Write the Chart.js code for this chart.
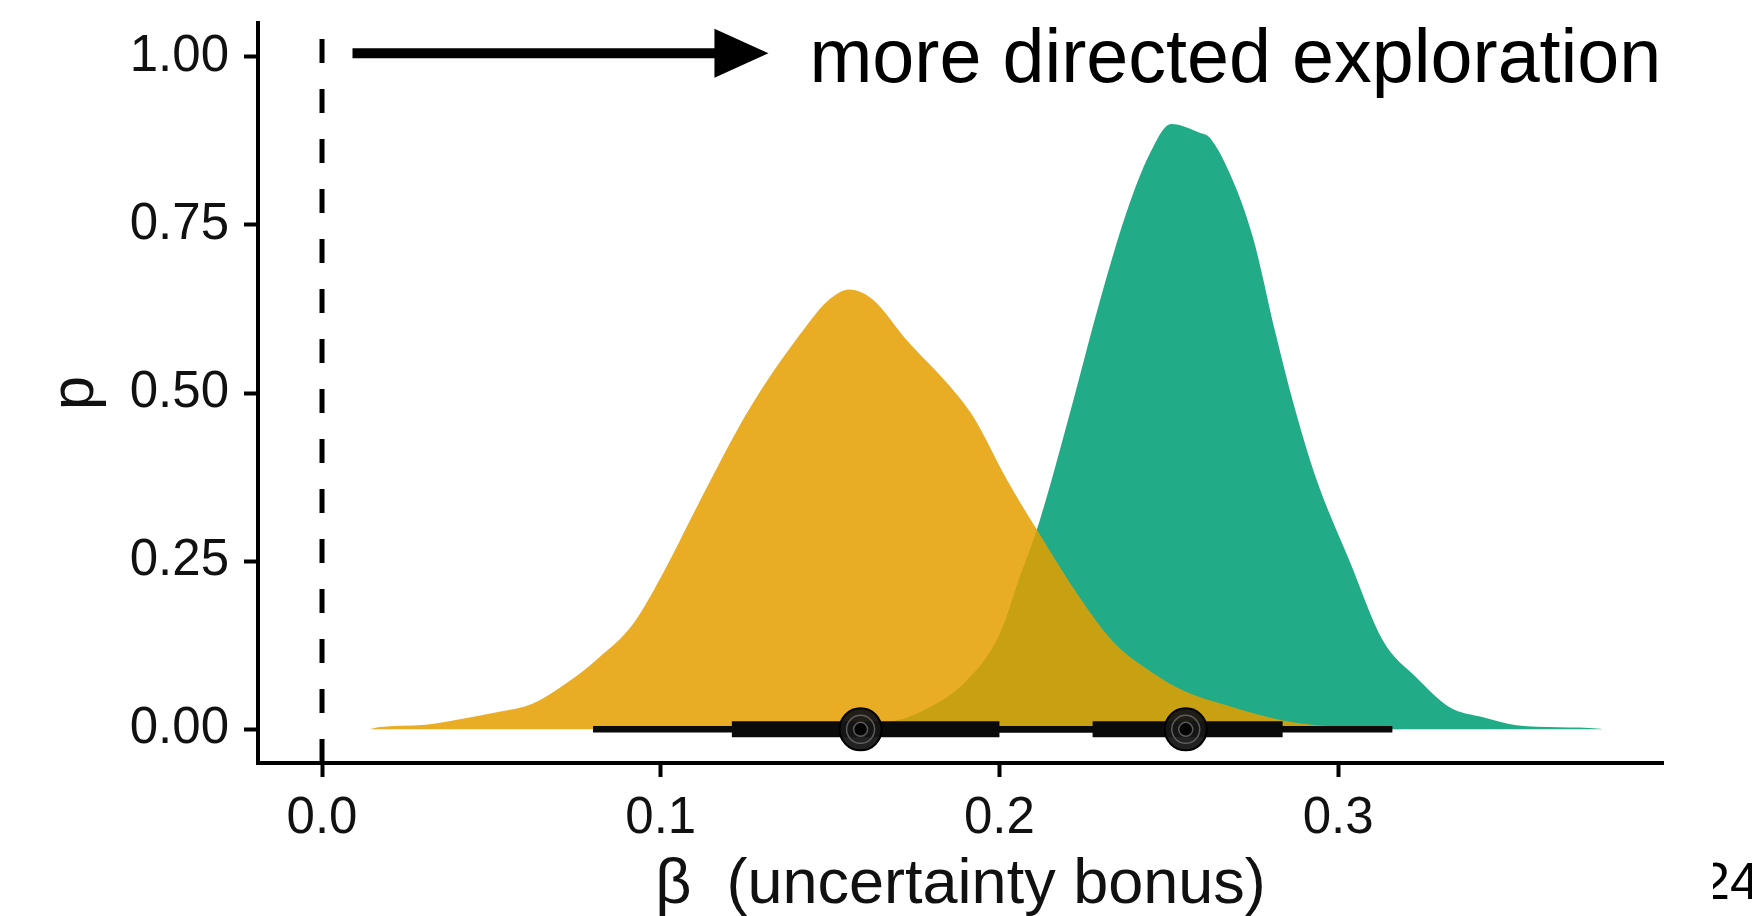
<!DOCTYPE html>
<html>
<head>
<meta charset="utf-8">
<script src="https://cdn.jsdelivr.net/npm/chart.js@4.4.1/dist/chart.umd.min.js"></script>
<style>
  html, body { margin: 0; padding: 0; background: #ffffff; }
  #wrap { width: 1752px; height: 916px; position: relative; }
</style>
</head>
<body>
<div id="wrap"><canvas id="c" width="1752" height="916"></canvas></div>
<script>
// ---------- data ----------
const xTicks = [0.0, 0.1, 0.2, 0.3];
const yTicks = [0.00, 0.25, 0.50, 0.75, 1.00];

// posterior density, yellow group
const yellowBeta = [0.014, 0.0165, 0.0306, 0.0419, 0.0523, 0.0621, 0.072, 0.0818, 0.0917, 0.1015, 0.1114, 0.1261, 0.1429, 0.150, 0.1557, 0.1626, 0.1724, 0.1852, 0.1921, 0.202, 0.2108, 0.2245, 0.234, 0.2443, 0.2541, 0.2689, 0.2837, 0.2935, 0.310, 0.320];
const yellowDens = [0.000, 0.003, 0.007, 0.016, 0.026, 0.038, 0.068, 0.107, 0.156, 0.240, 0.338, 0.476, 0.599, 0.640, 0.654, 0.639, 0.580, 0.511, 0.466, 0.373, 0.299, 0.190, 0.128, 0.087, 0.058, 0.033, 0.013, 0.006, 0.002, 0.000];

// posterior density, green group
const greenBeta = [0.160, 0.1655, 0.1754, 0.1902, 0.200, 0.2059, 0.2118, 0.2217, 0.2295, 0.2374, 0.2443, 0.2507, 0.2591, 0.262, 0.2689, 0.2748, 0.2817, 0.2866, 0.2935, 0.3034, 0.3132, 0.3231, 0.3329, 0.3428, 0.3526, 0.365, 0.3773, 0.378];
const greenDens = [0.000, 0.008, 0.023, 0.072, 0.141, 0.225, 0.309, 0.487, 0.634, 0.767, 0.855, 0.900, 0.887, 0.880, 0.816, 0.732, 0.585, 0.488, 0.373, 0.250, 0.132, 0.077, 0.033, 0.018, 0.006, 0.003, 0.001, 0.000];

// point intervals: [yellow, green]
const medians  = [0.159, 0.255];
const ci66Low  = [0.121, 0.2275];
const ci66High = [0.200, 0.2836];
const ci95Low  = [0.080, 0.190];
const ci95High = [0.235, 0.316];

// reference line and annotation
const refLineX = [0];
const arrowFromX = 0.009;
const arrowToX = 0.1318;
const arrowY = 1.005;
const annotationText = 'more directed exploration';
const annotationX = 0.1439;

const xTitle = 'β  (uncertainty bonus)';
const yTitle = 'p';
const pageNumber = '24';

// ---------- styling ----------
const FONT = "'Liberation Sans', Arial, Helvetica, sans-serif";
const YELLOW = 'rgba(228,159,0,0.86)';
const GREEN = '#22AB87';
const X_MIN = -0.0189, X_MAX = 0.3959;
const Y_MIN = -0.05, Y_MAX = 1.05;

const toPts = (xs, ys) => xs.map((x, i) => ({ x: x, y: ys[i] }));

const datasets = [];

// density curves
datasets.push({
  type: 'line', data: toPts(yellowBeta, yellowDens), order: 10,
  fill: 'origin', backgroundColor: YELLOW, borderColor: 'rgba(0,0,0,0)', borderWidth: 0,
  pointRadius: 0, cubicInterpolationMode: 'monotone'
});
datasets.push({
  type: 'line', data: toPts(greenBeta, greenDens), order: 11,
  fill: 'origin', backgroundColor: GREEN, borderColor: 'rgba(0,0,0,0)', borderWidth: 0,
  pointRadius: 0, cubicInterpolationMode: 'monotone'
});

// dashed reference line at 0 (drawn bottom to top)
refLineX.forEach(v => datasets.push({
  type: 'line', data: [{ x: v, y: Y_MIN }, { x: v, y: Y_MAX }], order: 12,
  borderColor: '#000', borderWidth: 5, borderDash: [24, 26], pointRadius: 0, fill: false
}));

// intervals
medians.forEach((m, i) => {
  datasets.push({
    type: 'line', data: [{ x: ci95Low[i], y: 0 }, { x: ci95High[i], y: 0 }], order: 5,
    borderColor: '#0a0a0a', borderWidth: 6.5, borderCapStyle: 'butt', pointRadius: 0, fill: false
  });
  datasets.push({
    type: 'line', data: [{ x: ci66Low[i], y: 0 }, { x: ci66High[i], y: 0 }], order: 4,
    borderColor: '#0a0a0a', borderWidth: 16, borderCapStyle: 'butt', pointRadius: 0, fill: false
  });
});

// median points with concentric rings
const medPts = medians.map(m => ({ x: m, y: 0 }));
datasets.push({
  type: 'scatter', data: medPts, order: 3,
  pointRadius: 21, pointBackgroundColor: 'rgba(22,22,22,0.95)', pointBorderColor: '#000', pointBorderWidth: 2
});
datasets.push({
  type: 'scatter', data: medPts, order: 2,
  pointRadius: 14, pointBackgroundColor: 'rgba(0,0,0,0)', pointBorderColor: 'rgba(105,105,105,0.85)', pointBorderWidth: 1.5
});
datasets.push({
  type: 'scatter', data: medPts, order: 1,
  pointRadius: 7, pointBackgroundColor: 'rgba(0,0,0,0.9)', pointBorderColor: 'rgba(105,105,105,0.85)', pointBorderWidth: 1.5
});

// annotation plugin: arrow, text and page number
const annotate = {
  id: 'annotate',
  afterDatasetsDraw(chart) {
    const { ctx, scales: { x, y } } = chart;
    const x0 = x.getPixelForValue(arrowFromX);
    const x1 = x.getPixelForValue(arrowToX);
    const py = y.getPixelForValue(arrowY);
    const headLen = 54, headHalf = 24.5;
    ctx.save();
    ctx.strokeStyle = '#000';
    ctx.fillStyle = '#000';
    ctx.lineWidth = 10;
    ctx.lineCap = 'butt';
    ctx.beginPath();
    ctx.moveTo(x0, py);
    ctx.lineTo(x1 - headLen + 2, py);
    ctx.stroke();
    ctx.beginPath();
    ctx.moveTo(x1, py);
    ctx.lineTo(x1 - headLen, py - headHalf);
    ctx.lineTo(x1 - headLen, py + headHalf);
    ctx.closePath();
    ctx.fill();
    ctx.font = '75.5px ' + FONT;
    ctx.textBaseline = 'alphabetic';
    ctx.textAlign = 'left';
    ctx.fillText(annotationText, x.getPixelForValue(annotationX), py + 29);
    ctx.restore();
  },
  afterDraw(chart) {
    const { ctx } = chart;
    ctx.save();
    ctx.beginPath();
    ctx.rect(1713, 840, 60, 80);
    ctx.clip();
    ctx.fillStyle = '#000';
    ctx.font = '52px ' + FONT;
    ctx.textBaseline = 'alphabetic';
    ctx.textAlign = 'left';
    ctx.fillText(pageNumber, 1701, 899);
    ctx.restore();
  }
};

const axisCommon = {
  grid: { display: true, drawOnChartArea: false, drawTicks: true, tickLength: 14, tickWidth: 4, tickColor: '#000' },
  border: { display: true, color: '#000', width: 4 }
};

new Chart(document.getElementById('c'), {
  type: 'line',
  data: { datasets: datasets },
  plugins: [annotate],
  options: {
    responsive: false,
    animation: false,
    events: [],
    layout: { padding: { left: 0, top: 19, right: 89, bottom: 0 } },
    plugins: { legend: { display: false }, tooltip: { enabled: false } },
    scales: {
      x: {
        type: 'linear', min: X_MIN, max: X_MAX,
        afterBuildTicks: s => { s.ticks = xTicks.map(v => ({ value: v })); },
        afterFit: s => { s.height = 153; s.paddingLeft = 0; s.paddingRight = 0; },
        ticks: { font: { family: FONT, size: 51 }, color: '#111', padding: 11, maxRotation: 0, autoSkip: false,
                 callback: v => Number(v).toFixed(1) },
        grid: axisCommon.grid, border: axisCommon.border,
        title: { display: true, text: xTitle, color: '#111', font: { family: FONT, size: 63, lineHeight: 1 },
                 padding: { top: 0, bottom: -1 } }
      },
      y: {
        type: 'linear', min: Y_MIN, max: Y_MAX,
        afterBuildTicks: s => { s.ticks = yTicks.map(v => ({ value: v })); },
        afterFit: s => { s.width = 258; s.paddingTop = 0; s.paddingBottom = 0; },
        ticks: { font: { family: FONT, size: 51 }, color: '#111', padding: 15, autoSkip: false,
                 callback: v => Number(v).toFixed(2) },
        grid: axisCommon.grid, border: axisCommon.border,
        title: { display: true, text: yTitle, color: '#111', font: { family: FONT, size: 62, lineHeight: 1.2 },
                 padding: { top: 39, bottom: 0 } }
      }
    }
  }
});
</script>
</body>
</html>
